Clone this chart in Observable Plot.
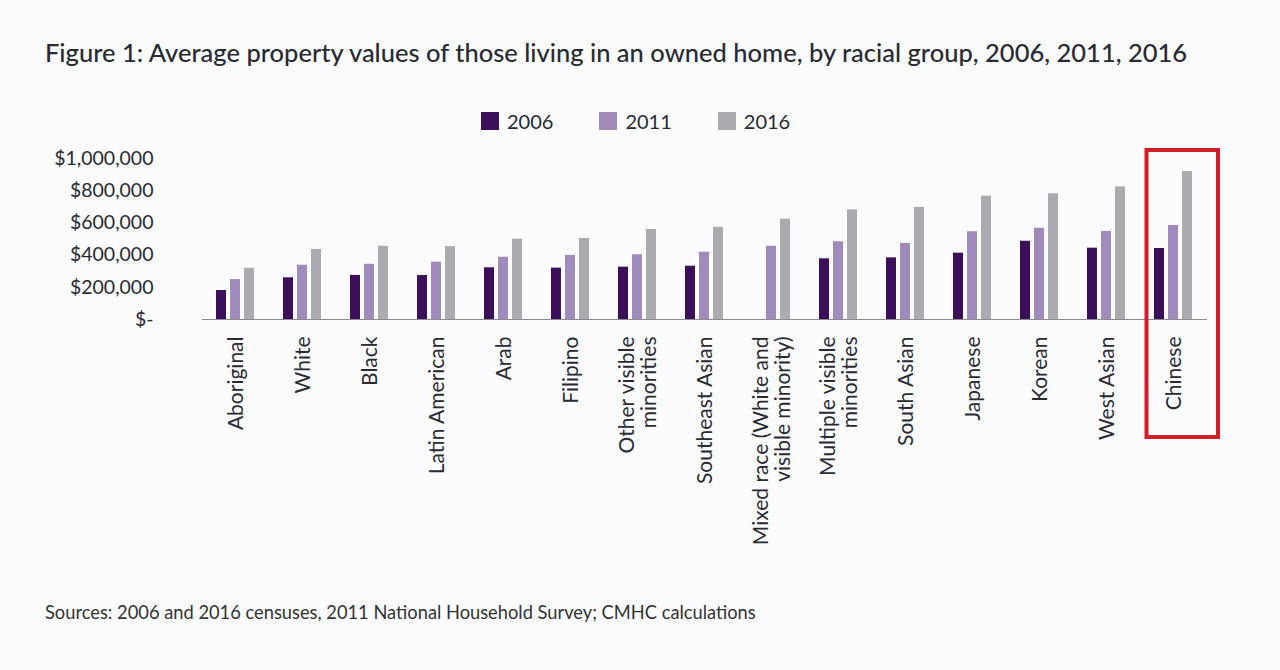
<!DOCTYPE html>
<html>
<head>
<meta charset="utf-8">
<script src="https://cdn.jsdelivr.net/npm/d3@7"></script>
<script src="https://cdn.jsdelivr.net/npm/@observablehq/plot@0.6"></script>
<style>
  html, body { margin: 0; padding: 0; background: #fcfcfe; }
  body { width: 1280px; height: 670px; position: relative; overflow: hidden; font-family: Lato, "Open Sans", sans-serif; color: #2a2a33; }
  #title { position: absolute; left: 45px; top: 37px; font-size: 25.5px; line-height: 30px; font-weight: 500; white-space: nowrap; }
  #legend { position: absolute; left: 481px; top: 108px; }
  #chart { position: absolute; left: 0; top: 140px; }
  #caption { position: absolute; left: 45px; top: 600px; font-size: 18.3px; line-height: 24px; white-space: nowrap; color: #333; }
  .leg-swatches { font-family: Lato, sans-serif !important; font-size: 20px !important; color: #2a2a33 !important; min-height: 26px !important; margin: 0 !important; }
  .leg-swatch { margin-right: 46px !important; }
  .leg-swatch > svg { margin-right: 8px !important; }
</style>
</head>
<body>
<div id="title">Figure 1: Average property values of those living in an owned home, by racial group, 2006, 2011, 2016</div>
<div id="legend"></div>
<div id="chart"></div>
<div id="caption">Sources: 2006 and 2016 censuses, 2011 National Household Survey; CMHC calculations</div>
<script>
// ---- data ----
const categories = ["Aboriginal", "White", "Black", "Latin American", "Arab", "Filipino",
  "Other visible minorities", "Southeast Asian", "Mixed race (White and visible minority)",
  "Multiple visible minorities", "South Asian", "Japanese", "Korean", "West Asian", "Chinese"];
const tickLabels = ["Aboriginal", "White", "Black", "Latin American", "Arab", "Filipino",
  "Other visible\nminorities", "Southeast Asian", "Mixed race (White and\nvisible minority)",
  "Multiple visible\nminorities", "South Asian", "Japanese", "Korean", "West Asian", "Chinese"];
const years = ["2006", "2011", "2016"];
const values2006 = [180000, 259000, 274000, 273000, 321000, 319000, 325000, 331000, null, 377000, 383000, 412000, 486000, 443000, 441000];
const values2011 = [248000, 337000, 343000, 356000, 387000, 398000, 402000, 418000, 455000, 483000, 472000, 545000, 567000, 547000, 584000];
const values2016 = [318000, 435000, 455000, 453000, 499000, 503000, 559000, 573000, 623000, 681000, 696000, 766000, 781000, 824000, 919000];
const yTicks = [0, 200000, 400000, 600000, 800000, 1000000];
const highlighted = ["Chinese"];
const colors = ["#3c0f5a", "#a08bbd", "#aaaaaf"];

const seriesValues = [values2006, values2011, values2016];
const table = [];
categories.forEach((c, i) => {
  years.forEach((yr, j) => {
    const v = seriesValues[j][i];
    if (v != null) table.push({category: c, year: yr, value: v});
  });
});
const labelOf = new Map(categories.map((c, i) => [c, tickLabels[i]]));
const fmtY = d => d === 0 ? "$-" : "$" + d3.format(",")(d);

const chart = Plot.plot({
  width: 1280,
  height: 429,
  marginTop: 18,
  marginBottom: 250,
  marginLeft: 199,
  marginRight: 70,
  style: {background: "transparent", fontFamily: "Lato, 'Open Sans', sans-serif", fontSize: "19.5px", color: "#2a2a33", overflow: "visible"},
  fx: {domain: categories, paddingInner: 0, paddingOuter: 0, label: null},
  x: {domain: years, paddingInner: 0.27, paddingOuter: 0.88, axis: null},
  y: {domain: [0, 1000000], label: null},
  color: {domain: years, range: colors},
  marks: [
    Plot.axisY({ticks: yTicks, tickFormat: fmtY, tickSize: 0, tickPadding: 49, line: true, stroke: "#8a8a8f", label: null}),
    Plot.axisFx({anchor: "bottom", tickRotate: -90, tickSize: 0, tickPadding: 17, fontSize: 21, tickFormat: d => labelOf.get(d), lineHeight: 1.05, label: null}),
    Plot.barY(table, {fx: "category", x: "year", y: "value", fill: "year"}),
    Plot.ruleY([0], {stroke: "#8a8a8f", strokeWidth: 1.2}),
    Plot.rect(highlighted, {fx: d => d, fill: "none", stroke: "#d01f2b", strokeWidth: 4,
      insetTop: -8, insetBottom: -118, insetLeft: 6.5, insetRight: -11})
  ]
});
document.getElementById("chart").appendChild(chart);

const legend = chart.legend("color", {swatchSize: 18, className: "leg"});
document.getElementById("legend").appendChild(legend);
</script>
</body>
</html>
